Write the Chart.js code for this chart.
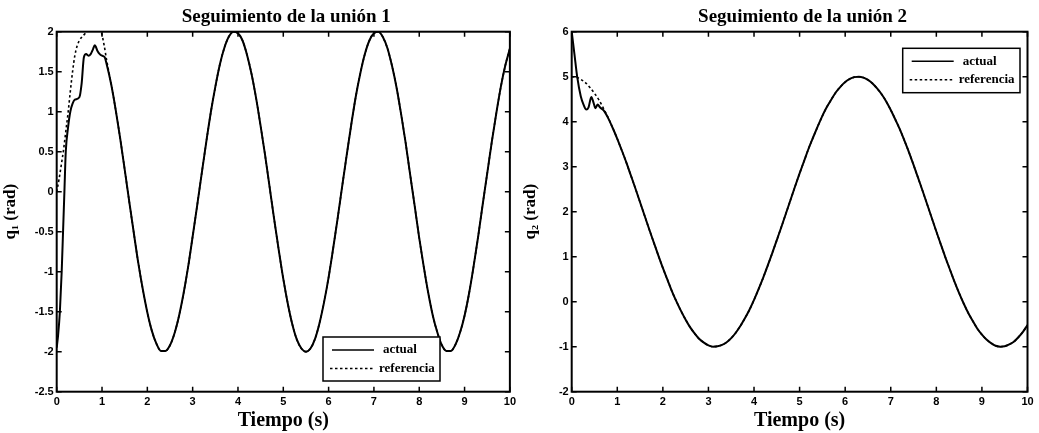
<!DOCTYPE html>
<html>
<head>
<meta charset="utf-8">
<script src="https://cdn.jsdelivr.net/npm/chart.js@4/dist/chart.umd.min.js"></script>
<style>
html,body{margin:0;padding:0;background:#fff;}
#wrap{position:relative;width:1039px;height:433px;overflow:hidden;}
canvas{position:absolute;top:0;}
</style>
</head>
<body>
<div id="wrap">
<canvas id="c1" width="520" height="433" style="left:0"></canvas>
<canvas id="c2" width="519" height="433" style="left:520px"></canvas>
</div>
<script>
// ---------- Data ----------
const titles = ["Seguimiento de la unión 1", "Seguimiento de la unión 2"];
const yTitles = ["q\u2081 (rad)", "q\u2082 (rad)"];
const xTitle = "Tiempo (s)";
const seriesNames = ["actual", "referencia"];

// Joint 1 — early transient
const q1ActualEarlyT = [0, 0.03, 0.07, 0.11, 0.14, 0.17, 0.2, 0.25, 0.3, 0.35, 0.4, 0.5, 0.55, 0.6, 0.65, 0.7, 0.75, 0.8, 0.84, 0.9, 0.95, 1.0, 1.06, 1.1];
const q1ActualEarly  = [-1.95, -1.8, -1.5, -1.0, -0.5, 0.0, 0.5, 0.8, 1.0, 1.1, 1.15, 1.18, 1.35, 1.68, 1.72, 1.7, 1.72, 1.78, 1.83, 1.76, 1.72, 1.7, 1.68, 1.6];
const q1RefEarlyT = [0, 0.05, 0.1, 0.15, 0.2, 0.25, 0.3, 0.35, 0.4, 0.45, 0.5, 0.55, 0.6, 0.66, 0.75, 0.82, 0.9, 0.98, 1.05, 1.1];
const q1RefEarly  = [0.0, 0.15, 0.33, 0.52, 0.75, 0.98, 1.25, 1.5, 1.7, 1.82, 1.89, 1.93, 1.96, 2.0, 2.05, 2.07, 2.05, 2.0, 1.82, 1.65];
// Joint 1 — tracked part (actual = referencia)
const q1CommonT = [1.2,1.3,1.4,1.5,1.6,1.7,1.8,1.9,2.0,2.1,2.2,2.3,2.4,2.5,2.6,2.7,2.8,2.9,3.0,3.1,3.2,3.3,3.4,3.5,3.6,3.7,3.8,3.9,4.0,4.1,4.2,4.3,4.4,4.5,4.6,4.7,4.8,4.9,5.0,5.1,5.2,5.3,5.4,5.5,5.6,5.7,5.8,5.9,6.0,6.1,6.2,6.3,6.4,6.5,6.6,6.7,6.8,6.9,7.0,7.1,7.2,7.3,7.4,7.5,7.6,7.7,7.8,7.9,8.0,8.1,8.2,8.3,8.4,8.5,8.6,8.7,8.8,8.9,9.0,9.1,9.2,9.3,9.4,9.5,9.6,9.7,9.8,9.9,10.0];
const q1Common = [1.35,1.03,0.67,0.28,-0.12,-0.51,-0.89,-1.22,-1.51,-1.74,-1.90,-1.99,-1.99,-1.92,-1.77,-1.55,-1.27,-0.94,-0.56,-0.17,0.23,0.62,0.99,1.31,1.59,1.80,1.94,2.00,1.98,1.89,1.71,1.47,1.17,0.82,0.45,0.05,-0.35,-0.73,-1.09,-1.40,-1.66,-1.85,-1.96,-2.00,-1.96,-1.84,-1.64,-1.38,-1.07,-0.71,-0.33,0.07,0.46,0.84,1.19,1.48,1.72,1.89,1.98,2.00,1.93,1.79,1.57,1.30,0.97,0.61,0.21,-0.18,-0.58,-0.94,-1.27,-1.55,-1.76,-1.92,-1.99,-1.99,-1.91,-1.76,-1.55,-1.27,-0.93,-0.56,-0.16,0.23,0.62,0.98,1.31,1.58,1.79];

// Joint 2 — early transient
const q2ActualEarlyT = [0, 0.06, 0.12, 0.2, 0.26, 0.32, 0.37, 0.43, 0.48, 0.52, 0.57, 0.62, 0.7, 0.8];
const q2ActualEarly  = [6.0, 5.5, 5.0, 4.56, 4.38, 4.27, 4.32, 4.55, 4.42, 4.3, 4.38, 4.32, 4.25, 4.08];
const q2RefEarlyT = [0, 0.1, 0.2, 0.3, 0.4, 0.5, 0.6, 0.7, 0.8];
const q2RefEarly  = [5.0, 4.99, 4.94, 4.87, 4.76, 4.63, 4.48, 4.29, 4.09];
// Joint 2 — tracked part
const q2CommonT = [0.9,1.0,1.1,1.2,1.3,1.4,1.5,1.6,1.7,1.8,1.9,2.0,2.1,2.2,2.3,2.4,2.5,2.6,2.7,2.8,2.9,3.0,3.1,3.2,3.3,3.4,3.5,3.6,3.7,3.8,3.9,4.0,4.1,4.2,4.3,4.4,4.5,4.6,4.7,4.8,4.9,5.0,5.1,5.2,5.3,5.4,5.5,5.6,5.7,5.8,5.9,6.0,6.1,6.2,6.3,6.4,6.5,6.6,6.7,6.8,6.9,7.0,7.1,7.2,7.3,7.4,7.5,7.6,7.7,7.8,7.9,8.0,8.1,8.2,8.3,8.4,8.5,8.6,8.7,8.8,8.9,9.0,9.1,9.2,9.3,9.4,9.5,9.6,9.7,9.8,9.9,10.0];
const q2Common = [3.86,3.62,3.36,3.09,2.80,2.51,2.21,1.91,1.61,1.32,1.03,0.75,0.49,0.23,0.00,-0.21,-0.40,-0.57,-0.71,-0.83,-0.91,-0.97,-1.00,-0.99,-0.96,-0.90,-0.81,-0.69,-0.54,-0.37,-0.18,0.04,0.28,0.53,0.80,1.08,1.37,1.66,1.96,2.26,2.56,2.85,3.13,3.41,3.66,3.90,4.13,4.33,4.50,4.66,4.78,4.88,4.95,4.99,5.00,4.98,4.93,4.85,4.74,4.61,4.45,4.26,4.05,3.83,3.58,3.32,3.04,2.75,2.46,2.16,1.86,1.56,1.27,0.98,0.71,0.44,0.19,-0.04,-0.25,-0.43,-0.60,-0.73,-0.84,-0.92,-0.98,-1.00,-0.99,-0.95,-0.89,-0.79,-0.67,-0.52];

// Axis ranges / ticks
const xMin = 0, xMax = 10, xStep = 1;
const y1Min = -2.5, y1Max = 2, y1Step = 0.5;
const y2Min = -2, y2Max = 6, y2Step = 1;

// ---------- Helpers ----------
function pts(ta, va) { return ta.map((t, i) => ({ x: t, y: va[i] })); }
const tickFmt = v => String(Math.round(v * 100) / 100);

const frame = {
  id: 'frame',
  afterDraw(chart, args, o) {
    const ctx = chart.ctx, a = chart.chartArea;
    const xs = chart.scales.x, ys = chart.scales.y;
    ctx.save();
    ctx.strokeStyle = '#000';
    ctx.lineWidth = 1.5;
    const L = 5;
    ctx.beginPath();
    xs.ticks.forEach(t => {
      const px = xs.getPixelForValue(t.value);
      ctx.moveTo(px, a.bottom); ctx.lineTo(px, a.bottom - L);
      ctx.moveTo(px, a.top); ctx.lineTo(px, a.top + L);
    });
    ys.ticks.forEach(t => {
      const py = ys.getPixelForValue(t.value);
      ctx.moveTo(a.left, py); ctx.lineTo(a.left + L, py);
      ctx.moveTo(a.right, py); ctx.lineTo(a.right - L, py);
    });
    ctx.stroke();
    ctx.lineWidth = 2;
    ctx.strokeRect(a.left, a.top, a.right - a.left, a.bottom - a.top);
    // legend
    const lg = o.box;
    ctx.fillStyle = '#fff';
    ctx.fillRect(lg.x, lg.y, lg.w, lg.h);
    ctx.lineWidth = 1.5;
    ctx.strokeRect(lg.x, lg.y, lg.w, lg.h);
    const ds = chart.data.datasets;
    ds.forEach((d, i) => {
      const ly = lg.y + 13 + i * 18.5;
      ctx.beginPath();
      ctx.setLineDash(d.borderDash || []);
      ctx.lineWidth = i === 0 ? 1.6 : 1.4;
      ctx.moveTo(lg.x + (i === 0 ? 9 : 7), ly);
      ctx.lineTo(lg.x + 51, ly);
      ctx.stroke();
      ctx.setLineDash([]);
      ctx.fillStyle = '#000';
      ctx.font = 'bold 13px "Liberation Serif", "Times New Roman", serif';
      ctx.textBaseline = 'middle';
      ctx.textAlign = 'left';
      ctx.fillText(d.label, lg.x + (i === 0 ? 60 : 56), ly);
    });
    ctx.restore();
  }
};

function makeChart(id, title, yTitle, actual, ref, yMin, yMax, yStep, pad, legendBox) {
  return new Chart(document.getElementById(id), {
    type: 'line',
    data: {
      datasets: [
        { label: seriesNames[0], data: actual, borderColor: '#000', borderWidth: 2, pointRadius: 0, cubicInterpolationMode: 'monotone', fill: false },
        { label: seriesNames[1], data: ref, borderColor: '#000', borderWidth: 1.6, borderDash: [2.5, 2.5], pointRadius: 0, cubicInterpolationMode: 'monotone', fill: false }
      ]
    },
    options: {
      responsive: false,
      devicePixelRatio: 1,
      animation: false,
      layout: { padding: pad },
      plugins: {
        legend: { display: false },
        tooltip: { enabled: false },
        title: { display: false },
        frame: { box: legendBox }
      },
      scales: {
        x: {
          type: 'linear', min: xMin, max: xMax,
          grid: { display: false, drawTicks: false },
          border: { display: false },
          ticks: { stepSize: xStep, callback: tickFmt, color: '#000', padding: 4, font: { family: '"Liberation Sans", Arial, sans-serif', weight: 'bold', size: 11 } },
          title: { display: true, text: xTitle, color: '#000', padding: { top: 0, bottom: 0 }, font: { family: '"Liberation Serif", "Times New Roman", serif', weight: 'bold', size: 20 } },
          afterFit(s) { s.height = 41.3; }
        },
        y: {
          type: 'linear', min: yMin, max: yMax,
          grid: { display: false, drawTicks: false },
          border: { display: false },
          ticks: { stepSize: yStep, callback: tickFmt, color: '#000', padding: 3, font: { family: '"Liberation Sans", Arial, sans-serif', weight: 'bold', size: 11 } },
          title: { display: true, text: yTitle, color: '#000', padding: { top: 0, bottom: 4 }, font: { family: '"Liberation Serif", "Times New Roman", serif', weight: 'bold', size: 17 } },
          afterFit(s) { s.width = pad.yw; }
        }
      }
    },
    plugins: [frame, {
      id: 'titleDraw',
      afterDraw(chart) {
        const ctx = chart.ctx, a = chart.chartArea;
        ctx.save();
        ctx.fillStyle = '#000';
        ctx.font = 'bold 19px "Liberation Serif", "Times New Roman", serif';
        ctx.textAlign = 'center';
        ctx.textBaseline = 'middle';
        ctx.fillText(title, (a.left + a.right) / 2 + 3, 17);
        ctx.restore();
      }
    }]
  });
}

makeChart('c1', titles[0], yTitles[0],
  pts(q1ActualEarlyT.concat(q1CommonT), q1ActualEarly.concat(q1Common)),
  pts(q1RefEarlyT.concat(q1CommonT), q1RefEarly.concat(q1Common)),
  y1Min, y1Max, y1Step,
  { left: 0, right: 5.7, top: 31.7, bottom: 0, yw: 56.7 },
  { x: 323, y: 337, w: 117, h: 44 });

makeChart('c2', titles[1], yTitles[1],
  pts(q2ActualEarlyT.concat(q2CommonT), q2ActualEarly.concat(q2Common)),
  pts(q2RefEarlyT.concat(q2CommonT), q2RefEarly.concat(q2Common)),
  y2Min, y2Max, y2Step,
  { left: 0, right: 519 - 507.5, top: 31.7, bottom: 0, yw: 51.7 },
  { x: 382.7, y: 48.3, w: 117.3, h: 44.4 });
</script>
</body>
</html>
